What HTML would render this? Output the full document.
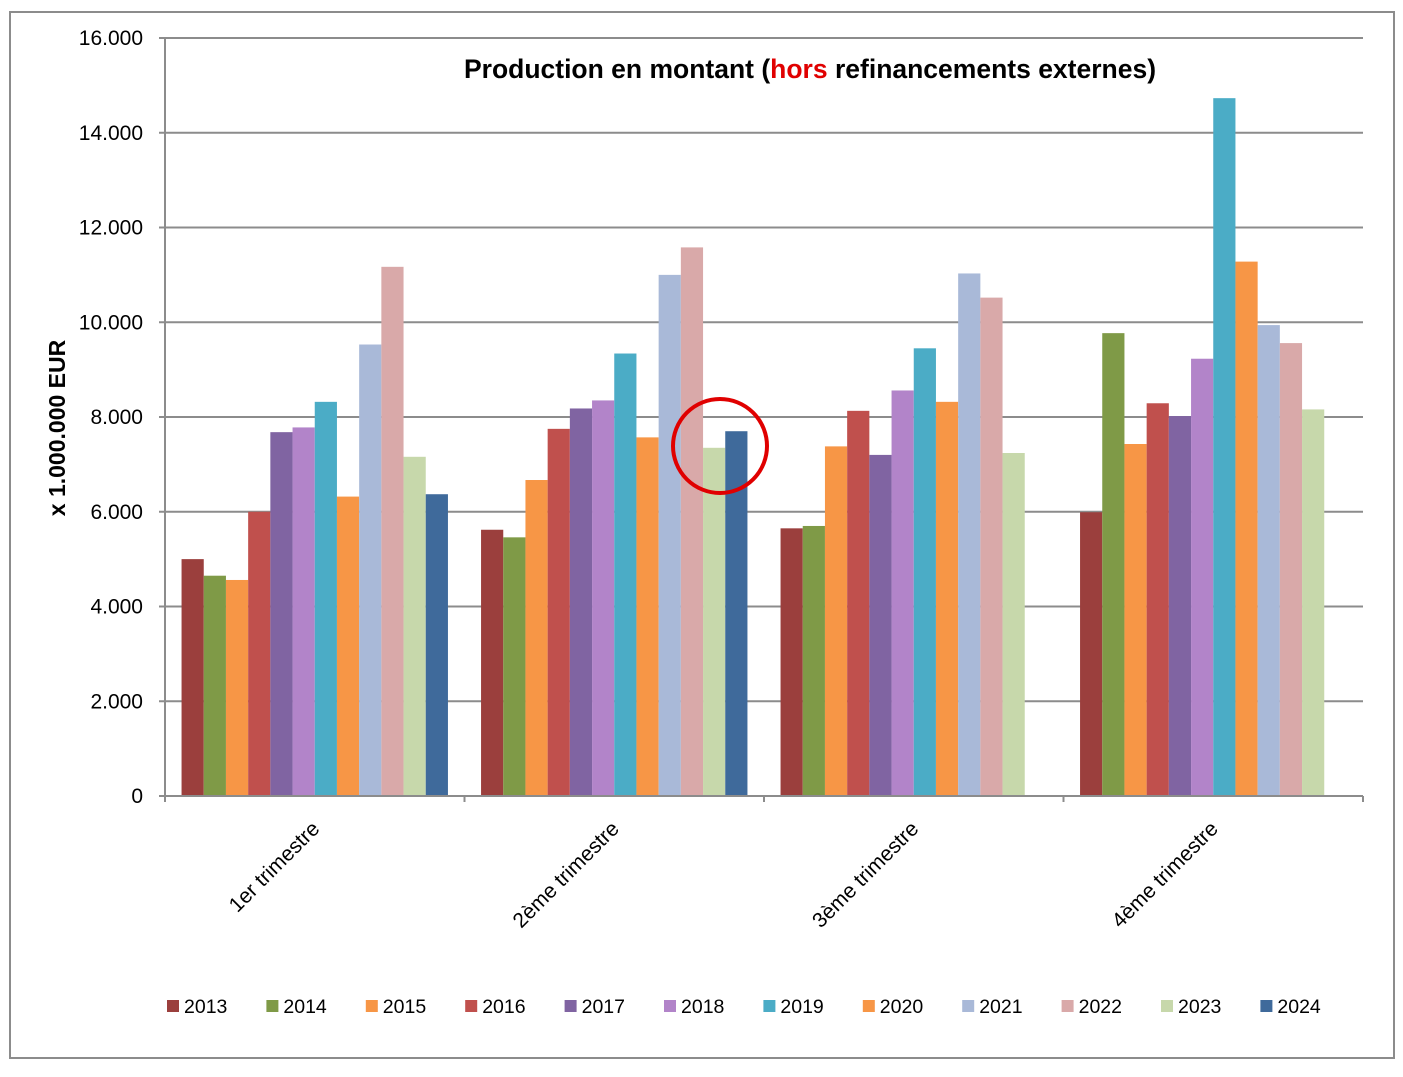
<!DOCTYPE html>
<html><head><meta charset="utf-8"><style>
body{margin:0;background:#fff;font-family:"Liberation Sans",Arial,sans-serif}
</style></head><body>
<svg id="c" width="1403" height="1072" xmlns="http://www.w3.org/2000/svg" font-family="Liberation Sans, Arial, sans-serif">
<rect x="10" y="12" width="1384" height="1046" fill="#fff" stroke="#8c8c8c" stroke-width="2"/>
<g id="grid"></g><g id="bars"></g><g id="axes"></g><g id="legend"></g>
<text x="810" y="78" text-anchor="middle" font-size="26.5" font-weight="bold" fill="#000">Production en montant (<tspan fill="#e00000">hors</tspan> refinancements externes)</text>
<text transform="translate(65,428) rotate(-90)" text-anchor="middle" font-size="23" font-weight="bold">x 1.000.000 EUR</text>
<circle cx="720" cy="446" r="47" fill="none" stroke="#e00000" stroke-width="4"/>
</svg>
<script>
const categories=["1er trimestre","2ème trimestre","3ème trimestre","4ème trimestre"];
const years=["2013","2014","2015","2016","2017","2018","2019","2020","2021","2022","2023","2024"];
const colors=["#9b3f3d","#7f9a47","#f79646","#c0504d","#8064a2","#b284c9","#4bacc6","#f79646","#a9b9d8","#d9a9a9","#c7d8ab","#3f6a9b"];
const q1=[5000,4650,4560,6000,7680,7780,8320,6320,9530,11170,7160,6370];
const q2=[5620,5460,6670,7750,8180,8350,9340,7570,11000,11580,7350,7700];
const q3=[5650,5700,7380,8130,7200,8560,9450,8320,11030,10520,7240,null];
const q4=[5990,9770,7430,8290,8020,9230,14730,11280,9940,9560,8160,null];
const series=[q1,q2,q3,q4];
const yTicks=[0,2000,4000,6000,8000,10000,12000,14000,16000];
const yTickLabels=["0","2.000","4.000","6.000","8.000","10.000","12.000","14.000","16.000"];
const ns="http://www.w3.org/2000/svg";
const X0=165,X1=1363,Y0=796,Y1=38,YMAX=16000;
const y=v=>Y0-(v/YMAX)*(Y0-Y1);
const gw=(X1-X0)/categories.length;
const bw=22.2,pad=(gw-bw*years.length)/2;
function mk(t,a,p){const e=document.createElementNS(ns,t);for(const k in a)e.setAttribute(k,a[k]);p.appendChild(e);return e;}
const G=document.getElementById('grid'),B=document.getElementById('bars'),A=document.getElementById('axes'),L=document.getElementById('legend');
yTicks.forEach((t,i)=>{
 if(t>0){const l=mk('line',{x1:X0,x2:X1,y1:y(t),y2:y(t),stroke:'#8c8c8c','stroke-width':2},G);
 
 }
 const tk=mk('line',{x1:X0-6,x2:X0,y1:y(t),y2:y(t),stroke:'#8c8c8c','stroke-width':2},A);
 
 
 const tx=mk('text',{x:X0-22,y:y(t)+7,'text-anchor':'end','font-size':21},A);tx.textContent=yTickLabels[i];
 
 
});
categories.forEach((c,ci)=>{
 const gx=X0+ci*gw;
 series[ci].forEach((v,si)=>{
  if(v==null)return;
  const r=mk('rect',{x:gx+pad+si*bw,y:y(v),width:bw,height:Y0-y(v),fill:colors[si]},B);
  
  
 });
 const cx=gx+gw/2+6;
 const t=mk('text',{transform:`translate(${cx},${830}) rotate(-45)`,'text-anchor':'end','font-size':21},A);t.textContent=c;
 
 
});
for(let i=0;i<=categories.length;i++){const l=mk('line',{x1:X0+i*gw,x2:X0+i*gw,y1:Y0,y2:Y0+6,stroke:'#8c8c8c','stroke-width':2},A);
 
 }
const ax=mk('line',{x1:X0,x2:X0,y1:Y1,y2:Y0,stroke:'#8c8c8c','stroke-width':2},A);


const bx=mk('line',{x1:X0,x2:X1,y1:Y0,y2:Y0,stroke:'#8c8c8c','stroke-width':2},A);


years.forEach((yr,i)=>{
 const lx=167+i*99.4;
 const g=mk('g',{},L);
 
 
 mk('rect',{x:lx,y:1000,width:12,height:12,fill:colors[i]},g);
 const t=mk('text',{x:lx+17,y:1013,'font-size':19.5},g);t.textContent=yr;
});
</script>
</body></html>
